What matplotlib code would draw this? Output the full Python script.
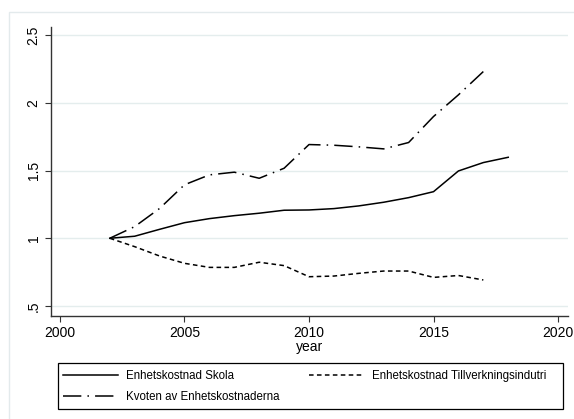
import matplotlib
matplotlib.use("Agg")
import matplotlib.pyplot as plt
from matplotlib.patches import Rectangle

plt.rcParams['font.family'] = ['Liberation Sans', 'DejaVu Sans']

years = list(range(2002, 2019))
skola = [1.00, 1.015, 1.066, 1.115, 1.145, 1.167, 1.185, 1.207, 1.209,
         1.219, 1.239, 1.266, 1.300, 1.344, 1.497, 1.559, 1.598]
years_t = list(range(2002, 2018))
tillverkning = [1.00, 0.938, 0.869, 0.815, 0.785, 0.785, 0.823, 0.798,
                0.716, 0.721, 0.741, 0.758, 0.758, 0.711, 0.725, 0.692]
kvot = [1.00, 1.086, 1.220, 1.395, 1.468, 1.488, 1.443, 1.517, 1.692,
        1.687, 1.675, 1.660, 1.707, 1.899, 2.059, 2.231]

xticks = [2000, 2005, 2010, 2015, 2020]
yticks = [0.5, 1, 1.5, 2, 2.5]
ytick_labels = [".5", "1", "1.5", "2", "2.5"]

W, H = 574, 419
fig = plt.figure(figsize=(W / 100, H / 100), dpi=100)
fig.patch.set_facecolor("white")

# outer graph-region frame
fig.add_artist(Rectangle((9 / W, -0.1), 1.2, (H - 12) / H + 0.1,
                         transform=fig.transFigure, fill=False,
                         edgecolor="#e3eaec", linewidth=1.0))

ax = fig.add_axes([51 / W, (H - 316) / H, (568 - 51) / W, (316 - 27) / H])
ax.set_xlim(1999.64, 2020.4)
ax.set_ylim(0.426, 2.56)

for yv in yticks:
    ax.axhline(yv, color="#e4eded", linewidth=1.0, zorder=0)

lw = 1.1
ax.plot(years, skola, color="black", linewidth=lw, linestyle="-",
        label="Enhetskostnad Skola")
ax.plot(years_t, kvot, color="black", linewidth=lw,
        linestyle=(0, (12, 4, 1, 4)), label="Kvoten av Enhetskostnaderna")
ax.plot(years_t, tillverkning, color="black", linewidth=lw,
        linestyle=(0, (3, 2.2)), label="Enhetskostnad Tillverkningsindutri")

for s in ["top", "right"]:
    ax.spines[s].set_visible(False)
for s in ["left", "bottom"]:
    ax.spines[s].set_color("#333333")
    ax.spines[s].set_linewidth(1.0)

ax.set_xticks(xticks)
ax.set_xticklabels([str(x) for x in xticks], fontsize=10)
ax.set_yticks(yticks)
ax.set_yticklabels(ytick_labels, fontsize=10, rotation=90, va="center")
ax.tick_params(axis="both", direction="out", length=4, width=0.8,
               color="#333333", pad=3.5)
ax.set_xlabel("year", fontsize=10, labelpad=0)

# legend box
fig.add_artist(Rectangle((58 / W, (H - 409) / H), (563 - 58) / W, (409 - 362.7) / H,
                         transform=fig.transFigure, fill=False,
                         edgecolor="black", linewidth=0.9))

handles, labels = ax.get_legend_handles_labels()
leg = fig.legend(handles, labels, ncol=2,
                 bbox_to_anchor=(63 / W, (H - 370) / H),
                 loc="upper left", fontsize=8.3, frameon=False,
                 handlelength=4.8, handletextpad=0.7, columnspacing=2.5,
                 borderaxespad=0, borderpad=0, labelspacing=0.8)

fig.savefig("out.png", dpi=100, facecolor="white")
